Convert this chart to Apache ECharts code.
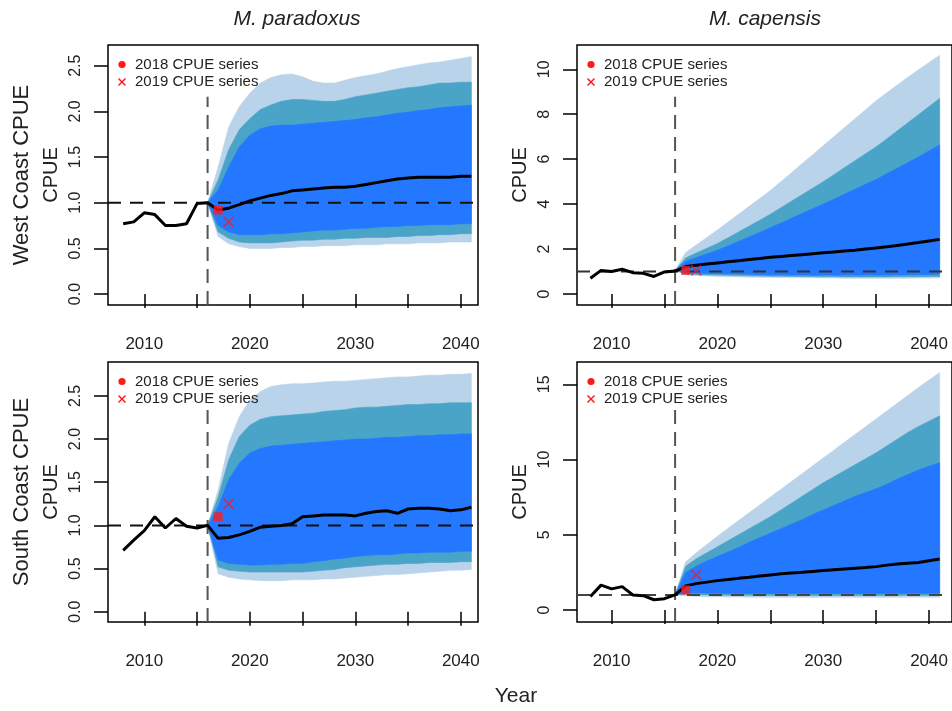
<!DOCTYPE html>
<html><head><meta charset="utf-8">
<script src="https://cdn.jsdelivr.net/npm/echarts@6/dist/echarts.min.js"></script>
<style>html,body{margin:0;padding:0;background:#fff}#c{width:952px;height:711px}</style>
</head><body><div id="c"></div>
<script>
// ---------- data ----------
const histYears = [2008, 2009, 2010, 2011, 2012, 2013, 2014, 2015, 2016];
const projYears = [2016, 2017, 2018, 2019, 2020, 2021, 2022, 2023, 2024, 2025, 2026, 2027, 2028,
  2029, 2030, 2031, 2032, 2033, 2034, 2035, 2036, 2037, 2038, 2039, 2040, 2041];
const xTickVals = [2010, 2015, 2020, 2025, 2030, 2035, 2040];
const xLabelVals = [2010, 2020, 2030, 2040];
const parYTicks = [0, 0.5, 1, 1.5, 2, 2.5];
const wcCapYTicks = [0, 2, 4, 6, 8, 10];
const scCapYTicks = [0, 5, 10, 15];
const colTitles = ['M. paradoxus', 'M. capensis'];
const rowTitles = ['West Coast CPUE', 'South Coast CPUE'];
const legendLabels = ['2018 CPUE series', '2019 CPUE series'];

// West Coast, M. paradoxus
const wcParHist = [0.77, 0.79, 0.89, 0.87, 0.75, 0.75, 0.77, 0.99, 1.00];
const wcParMed = [1.00, 0.92, 0.94, 0.98, 1.02, 1.05, 1.08, 1.10, 1.13, 1.14, 1.15, 1.16, 1.17, 1.17, 1.18, 1.20, 1.22, 1.24, 1.26, 1.27, 1.28, 1.28, 1.28, 1.28, 1.29, 1.29];
const wcParU95 = [1.00, 1.39, 1.83, 2.05, 2.20, 2.31, 2.37, 2.40, 2.41, 2.38, 2.33, 2.31, 2.31, 2.34, 2.37, 2.39, 2.41, 2.44, 2.47, 2.49, 2.51, 2.53, 2.54, 2.56, 2.58, 2.60];
const wcParU80 = [1.00, 1.25, 1.58, 1.80, 1.92, 2.02, 2.07, 2.11, 2.13, 2.13, 2.12, 2.11, 2.11, 2.13, 2.16, 2.18, 2.20, 2.22, 2.24, 2.26, 2.27, 2.29, 2.31, 2.31, 2.32, 2.32];
const wcParU50 = [1.00, 1.14, 1.39, 1.61, 1.74, 1.81, 1.84, 1.85, 1.85, 1.86, 1.87, 1.88, 1.89, 1.90, 1.91, 1.93, 1.94, 1.96, 1.98, 1.99, 2.01, 2.02, 2.04, 2.05, 2.06, 2.07];
const wcParL50 = [1.00, 0.75, 0.68, 0.65, 0.65, 0.65, 0.66, 0.66, 0.67, 0.68, 0.69, 0.70, 0.70, 0.71, 0.72, 0.72, 0.73, 0.74, 0.74, 0.75, 0.75, 0.76, 0.76, 0.76, 0.77, 0.77];
const wcParL80 = [1.00, 0.68, 0.61, 0.57, 0.56, 0.56, 0.56, 0.57, 0.58, 0.59, 0.59, 0.60, 0.60, 0.61, 0.61, 0.62, 0.62, 0.62, 0.63, 0.63, 0.64, 0.64, 0.65, 0.65, 0.66, 0.66];
const wcParL95 = [1.00, 0.63, 0.55, 0.52, 0.50, 0.50, 0.50, 0.51, 0.51, 0.52, 0.52, 0.53, 0.53, 0.53, 0.54, 0.54, 0.54, 0.55, 0.55, 0.55, 0.56, 0.56, 0.56, 0.57, 0.57, 0.57];
const wcParObs2018 = [2017, 0.92];
const wcParObs2019 = [2018, 0.79];
const wcParVTop = 2.16;

// West Coast, M. capensis
const wcCapHist = [0.70, 1.05, 1.00, 1.10, 0.95, 0.92, 0.78, 0.98, 1.02];
const wcCapMed = [1.05, 1.22, 1.28, 1.33, 1.38, 1.43, 1.48, 1.53, 1.58, 1.63, 1.67, 1.71, 1.75, 1.79, 1.83, 1.87, 1.91, 1.95, 2.00, 2.05, 2.10, 2.16, 2.22, 2.29, 2.36, 2.43];
const wcCapU95 = [1.05, 1.85, 2.18, 2.51, 2.85, 3.20, 3.55, 3.90, 4.25, 4.60, 5.00, 5.40, 5.80, 6.20, 6.60, 7.00, 7.40, 7.80, 8.20, 8.60, 8.95, 9.30, 9.65, 9.98, 10.30, 10.62];
const wcCapU80 = [1.05, 1.60, 1.82, 2.03, 2.25, 2.50, 2.76, 3.02, 3.28, 3.55, 3.84, 4.13, 4.42, 4.71, 5.00, 5.31, 5.62, 5.93, 6.24, 6.55, 6.90, 7.26, 7.62, 7.98, 8.34, 8.70];
const wcCapU50 = [1.05, 1.45, 1.62, 1.78, 1.95, 2.14, 2.34, 2.54, 2.74, 2.95, 3.16, 3.37, 3.58, 3.79, 4.00, 4.22, 4.44, 4.66, 4.88, 5.10, 5.35, 5.60, 5.85, 6.10, 6.37, 6.63];
const wcCapL50 = [1.05, 0.95, 0.93, 0.92, 0.91, 0.90, 0.89, 0.88, 0.87, 0.86, 0.86, 0.85, 0.85, 0.84, 0.84, 0.84, 0.84, 0.84, 0.85, 0.85, 0.85, 0.86, 0.86, 0.87, 0.87, 0.88];
const wcCapL80 = [1.05, 0.90, 0.87, 0.85, 0.84, 0.83, 0.82, 0.81, 0.80, 0.79, 0.79, 0.78, 0.78, 0.77, 0.77, 0.77, 0.76, 0.76, 0.76, 0.76, 0.76, 0.77, 0.77, 0.77, 0.78, 0.78];
const wcCapL95 = [1.05, 0.86, 0.82, 0.80, 0.78, 0.77, 0.76, 0.75, 0.74, 0.74, 0.73, 0.73, 0.72, 0.72, 0.71, 0.71, 0.70, 0.70, 0.70, 0.70, 0.70, 0.70, 0.70, 0.71, 0.71, 0.72];
const wcCapObs2018 = [2017, 1.05];
const wcCapObs2019 = [2018, 1.05];
const wcCapVTop = 8.78;

// South Coast, M. paradoxus
const scParHist = [0.71, 0.83, 0.94, 1.10, 0.97, 1.08, 0.99, 0.97, 1.00];
const scParMed = [1.00, 0.85, 0.86, 0.89, 0.93, 0.98, 0.99, 1.00, 1.02, 1.10, 1.11, 1.12, 1.12, 1.12, 1.11, 1.14, 1.16, 1.17, 1.14, 1.19, 1.20, 1.20, 1.19, 1.17, 1.18, 1.21];
const scParU95 = [1.00, 1.41, 1.95, 2.26, 2.45, 2.55, 2.61, 2.63, 2.64, 2.64, 2.65, 2.66, 2.67, 2.67, 2.68, 2.69, 2.70, 2.71, 2.72, 2.72, 2.73, 2.74, 2.74, 2.75, 2.75, 2.76];
const scParU80 = [1.00, 1.33, 1.76, 2.03, 2.16, 2.23, 2.26, 2.27, 2.28, 2.29, 2.30, 2.32, 2.33, 2.34, 2.36, 2.37, 2.37, 2.38, 2.39, 2.40, 2.40, 2.41, 2.41, 2.42, 2.42, 2.42];
const scParU50 = [1.00, 1.22, 1.53, 1.72, 1.84, 1.89, 1.92, 1.93, 1.94, 1.95, 1.96, 1.97, 1.98, 1.99, 2.00, 2.00, 2.01, 2.02, 2.02, 2.03, 2.04, 2.04, 2.05, 2.05, 2.06, 2.06];
const scParL50 = [1.00, 0.60, 0.56, 0.55, 0.54, 0.54, 0.55, 0.55, 0.56, 0.56, 0.58, 0.59, 0.61, 0.62, 0.64, 0.65, 0.66, 0.66, 0.67, 0.68, 0.68, 0.69, 0.69, 0.69, 0.70, 0.70];
const scParL80 = [1.00, 0.52, 0.48, 0.47, 0.46, 0.46, 0.46, 0.46, 0.46, 0.46, 0.47, 0.48, 0.49, 0.51, 0.52, 0.53, 0.54, 0.55, 0.55, 0.56, 0.56, 0.57, 0.57, 0.57, 0.58, 0.58];
const scParL95 = [1.00, 0.44, 0.40, 0.38, 0.37, 0.36, 0.36, 0.36, 0.37, 0.37, 0.37, 0.38, 0.38, 0.39, 0.40, 0.41, 0.42, 0.43, 0.43, 0.44, 0.45, 0.46, 0.47, 0.48, 0.48, 0.49];
const scParObs2018 = [2017, 1.10];
const scParObs2019 = [2018, 1.25];
const scParVTop = 2.36;

// South Coast, M. capensis
const scCapHist = [0.90, 1.65, 1.40, 1.55, 1.00, 0.95, 0.68, 0.75, 1.00];
const scCapMed = [1.00, 1.60, 1.75, 1.85, 1.95, 2.02, 2.10, 2.17, 2.25, 2.33, 2.40, 2.45, 2.50, 2.56, 2.62, 2.67, 2.72, 2.77, 2.82, 2.88, 2.98, 3.05, 3.10, 3.15, 3.27, 3.38];
const scCapU95 = [1.00, 3.20, 3.80, 4.35, 4.90, 5.42, 5.94, 6.46, 6.98, 7.50, 8.02, 8.54, 9.06, 9.58, 10.10, 10.62, 11.14, 11.66, 12.18, 12.70, 13.22, 13.74, 14.26, 14.78, 15.28, 15.78];
const scCapU80 = [1.00, 2.90, 3.40, 3.80, 4.20, 4.60, 5.00, 5.40, 5.80, 6.20, 6.65, 7.10, 7.55, 8.00, 8.45, 8.85, 9.25, 9.65, 10.05, 10.45, 10.90, 11.35, 11.80, 12.20, 12.55, 12.90];
const scCapU50 = [1.00, 2.50, 2.90, 3.25, 3.55, 3.85, 4.15, 4.50, 4.80, 5.10, 5.40, 5.70, 6.00, 6.35, 6.65, 6.95, 7.25, 7.55, 7.80, 8.05, 8.35, 8.70, 9.00, 9.30, 9.55, 9.78];
const scCapL50 = [1.00, 1.15, 1.13, 1.12, 1.11, 1.11, 1.10, 1.10, 1.10, 1.10, 1.10, 1.10, 1.10, 1.10, 1.10, 1.10, 1.10, 1.10, 1.10, 1.10, 1.10, 1.10, 1.11, 1.11, 1.11, 1.11];
const scCapL80 = [1.00, 1.05, 1.02, 1.00, 0.99, 0.98, 0.98, 0.97, 0.97, 0.97, 0.96, 0.96, 0.96, 0.96, 0.96, 0.96, 0.96, 0.96, 0.96, 0.96, 0.96, 0.96, 0.97, 0.97, 0.97, 0.97];
const scCapL95 = [1.00, 0.95, 0.90, 0.88, 0.87, 0.86, 0.86, 0.85, 0.85, 0.85, 0.84, 0.84, 0.84, 0.84, 0.84, 0.84, 0.84, 0.84, 0.84, 0.84, 0.84, 0.84, 0.85, 0.85, 0.85, 0.85];
const scCapObs2018 = [2017, 1.33];
const scCapObs2019 = [2018, 2.33];
const scCapVTop = 13.4;

const refLevel = 1;
const projStart = 2016;

// ---------- layout & style ----------
const FONT = '"Liberation Sans", Arial, Helvetica, sans-serif';
const bandColors = ['#b9d3ea', '#4aa4c8', '#2478ff'];

const panels = [
  { box: [108, 45, 370, 260], x: [2006.56, 2041.63], y: [-0.12, 2.727], yTicks: parYTicks, dec: true,
    hist: wcParHist, med: wcParMed, bands: [[wcParL95, wcParU95], [wcParL80, wcParU80], [wcParL50, wcParU50]],
    o18: wcParObs2018, o19: wcParObs2019, vTop: wcParVTop, hCol: '#111' },
  { box: [577, 45, 376, 260], x: [2006.73, 2042.17], y: [-0.49, 11.08], yTicks: wcCapYTicks, dec: false,
    hist: wcCapHist, med: wcCapMed, bands: [[wcCapL95, wcCapU95], [wcCapL80, wcCapU80], [wcCapL50, wcCapU50]],
    o18: wcCapObs2018, o19: wcCapObs2019, vTop: wcCapVTop, hCol: '#333' },
  { box: [108, 362, 370, 260], x: [2006.56, 2041.63], y: [-0.119, 2.893], yTicks: parYTicks, dec: true,
    hist: scParHist, med: scParMed, bands: [[scParL95, scParU95], [scParL80, scParU80], [scParL50, scParU50]],
    o18: scParObs2018, o19: scParObs2019, vTop: scParVTop, hCol: '#111' },
  { box: [577, 362, 376, 260], x: [2006.73, 2042.17], y: [-0.80, 16.48], yTicks: scCapYTicks, dec: false,
    hist: scCapHist, med: scCapMed, bands: [[scCapL95, scCapU95], [scCapL80, scCapU80], [scCapL50, scCapU50]],
    o18: scCapObs2018, o19: scCapObs2019, vTop: scCapVTop, hCol: '#444' }
];

const pairs = (xs, ys) => xs.map((x, i) => [x, ys[i]]);

function bandsSeries(i, p) {
  return {
    type: 'custom', xAxisIndex: i, yAxisIndex: i, silent: true, z: 2, zlevel: 0,
    data: projYears.map((x, j) => [x, p.bands[0][0][j], p.bands[0][1][j]]),
    encode: { x: 0, y: [1, 2] },
    renderItem: (params, api) => {
      if (params.dataIndex !== 0) return null;
      const children = [];
      p.bands.forEach((b, k) => {
        const lo = b[0], hi = b[1];
        const pts = [];
        for (let j = 0; j < projYears.length; j++) pts.push(api.coord([projYears[j], hi[j]]));
        for (let j = projYears.length - 1; j >= 0; j--) pts.push(api.coord([projYears[j], lo[j]]));
        children.push({ type: 'polygon', z2: k, shape: { points: pts },
          style: { fill: bandColors[k], stroke: bandColors[k], lineWidth: 0.6 } });
      });
      return { type: 'group', children: children };
    }
  };
}

const option = { animation: false, backgroundColor: '#fff', grid: [], xAxis: [], yAxis: [], series: [], graphic: [] };

panels.forEach((p, i) => {
  const [bx, by, bw, bh] = p.box;
  option.grid.push({ left: bx, top: by, width: bw, height: bh, show: true, borderColor: '#000', borderWidth: 1.5,
    backgroundColor: 'transparent' });
  option.xAxis.push({ type: 'value', gridIndex: i, min: p.x[0], max: p.x[1],
    axisLine: { show: false }, splitLine: { show: false },
    axisTick: { show: true, customValues: xTickVals, length: 14, lineStyle: { color: '#000', width: 1.5 } },
    axisLabel: { customValues: xLabelVals, margin: 31, fontSize: 17, color: '#222', fontFamily: FONT,
      formatter: v => String(v) } });
  option.yAxis.push({ type: 'value', gridIndex: i, min: p.y[0], max: p.y[1],
    axisLine: { show: false }, splitLine: { show: false },
    axisTick: { show: true, customValues: p.yTicks, length: 14, lineStyle: { color: '#000', width: 1.5 } },
    axisLabel: { customValues: p.yTicks, rotate: 90, margin: 24, fontSize: 16, color: '#222', fontFamily: FONT,
      formatter: v => p.dec ? Number(v).toFixed(1) : String(v) },
    name: 'CPUE', nameLocation: 'middle', nameGap: 47,
    nameTextStyle: { fontSize: 20, color: '#222', fontFamily: FONT } });

  // uncertainty bands (bottom layer)
  option.series.push(bandsSeries(i, p));

  // dashed reference lines (upper layer)
  option.series.push({ type: 'line', xAxisIndex: i, yAxisIndex: i, symbol: 'none', zlevel: 1, z: 1, silent: true,
    clip: false, data: [[p.x[0], refLevel], [p.x[1], refLevel]],
    lineStyle: { color: p.hCol, width: 2, type: [13, 9] } });
  option.series.push({ type: 'line', xAxisIndex: i, yAxisIndex: i, symbol: 'none', zlevel: 1, z: 1, silent: true,
    clip: false, data: [[projStart, p.y[0]], [projStart, p.vTop]],
    lineStyle: { color: '#555', width: 2, type: [14, 8] } });

  // median trajectory (historical + projection)
  const medLine = pairs(histYears, p.hist).concat(pairs(projYears.slice(1), p.med.slice(1)));
  option.series.push({ type: 'line', xAxisIndex: i, yAxisIndex: i, data: medLine, symbol: 'none',
    lineStyle: { color: '#000', width: 3 }, zlevel: 1, z: 2, silent: true });

  // observed points
  option.series.push({ type: 'scatter', name: legendLabels[0], xAxisIndex: i, yAxisIndex: i, data: [p.o18],
    symbol: 'rect', symbolSize: 9, itemStyle: { color: '#ff1a1a' }, zlevel: 1, z: 3, silent: true });
  option.series.push({ type: 'scatter', name: legendLabels[1], xAxisIndex: i, yAxisIndex: i, data: [p.o19],
    symbol: 'path://M0,0L10,10M0,10L10,0', symbolSize: 10,
    itemStyle: { color: 'transparent', borderColor: '#e8202a', borderWidth: 1.6 }, zlevel: 1, z: 3, silent: true });

  // legend
  const lx = bx + 14, ly1 = by + 19.5, ly2 = by + 37;
  option.graphic.push({ type: 'circle', z: 101, silent: true, shape: { cx: lx, cy: ly1, r: 3.6 }, style: { fill: '#ff1a1a' } });
  option.graphic.push({ type: 'line', z: 101, silent: true, shape: { x1: lx - 3.5, y1: ly2 - 3.5, x2: lx + 3.5, y2: ly2 + 3.5 },
    style: { stroke: '#ff1a1a', lineWidth: 1.5 } });
  option.graphic.push({ type: 'line', z: 101, silent: true, shape: { x1: lx - 3.5, y1: ly2 + 3.5, x2: lx + 3.5, y2: ly2 - 3.5 },
    style: { stroke: '#ff1a1a', lineWidth: 1.5 } });
  [ly1, ly2].forEach((yy, k) => {
    option.graphic.push({ type: 'text', z: 101, silent: true, x: bx + 27, y: yy,
      style: { text: legendLabels[k], font: '15px ' + FONT, fill: '#222',
        textVerticalAlign: 'middle', verticalAlign: 'middle', textAlign: 'left', align: 'left' } });
  });
});

// column titles
[[297, colTitles[0]], [765, colTitles[1]]].forEach(([x, t]) => {
  option.graphic.push({ type: 'text', z: 101, silent: true, x: x, y: 19,
    style: { text: t, font: 'italic 21px ' + FONT, fill: '#222', textAlign: 'center', align: 'center',
      textVerticalAlign: 'middle', verticalAlign: 'middle' } });
});
// row titles
[[175, rowTitles[0]], [492, rowTitles[1]]].forEach(([y, t]) => {
  option.graphic.push({ type: 'text', z: 101, silent: true, x: 22, y: y, rotation: Math.PI / 2,
    style: { text: t, font: '22px ' + FONT, fill: '#222', textAlign: 'center', align: 'center',
      textVerticalAlign: 'middle', verticalAlign: 'middle' } });
});
// x axis title
option.graphic.push({ type: 'text', z: 101, silent: true, x: 516, y: 696,
  style: { text: 'Year', font: '21px ' + FONT, fill: '#222', textAlign: 'center', align: 'center',
    textVerticalAlign: 'middle', verticalAlign: 'middle' } });

const chart = echarts.init(document.getElementById('c'), null, { renderer: 'canvas' });
chart.setOption(option);
</script></body></html>
